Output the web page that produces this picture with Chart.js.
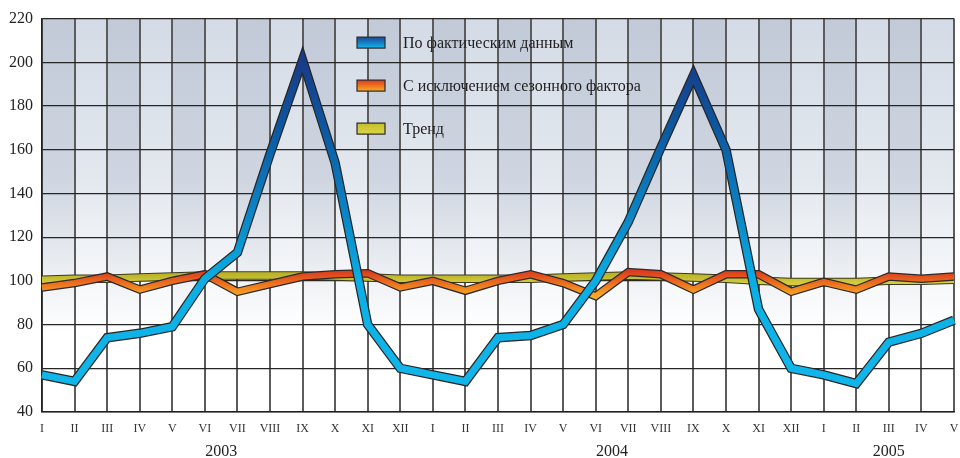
<!DOCTYPE html>
<html>
<head>
<meta charset="utf-8">
<script src="https://cdn.jsdelivr.net/npm/chart.js@4"></script>
<style>
  html, body { margin: 0; padding: 0; background: #fff; }
</style>
</head>
<body>
<canvas id="chart" width="960" height="458"></canvas>
<script>
  // categories
  var months = ['I', 'II', 'III', 'IV', 'V', 'VI', 'VII', 'VIII', 'IX', 'X', 'XI', 'XII',
                'I', 'II', 'III', 'IV', 'V', 'VI', 'VII', 'VIII', 'IX', 'X', 'XI', 'XII',
                'I', 'II', 'III', 'IV', 'V'];
  var years = ['2003', '2004', '2005'];
  var monthsPerYear = [12, 12, 5];

  // series
  var actual = [57, 54, 74, 76, 79, 101, 113, 158, 201, 154, 80, 60,
                57, 54, 74, 75, 80, 100, 127, 161, 194, 160, 87, 60,
                57, 53, 72, 76, 82];
  var seasonAdj = [97, 99, 102, 96, 100, 103, 95, 98.5, 102, 103, 103.5, 97,
                   100, 95.5, 100, 103, 99, 93, 104, 103, 96, 103, 103, 95,
                   99.5, 96, 102, 101, 102];
  var trend = [100.5, 101, 101, 101.5, 102, 102.5, 102.5, 102.5, 102.5, 102, 101.5, 101,
               101, 101, 101, 101, 101.5, 102, 102.5, 102, 101.5, 101, 100, 99.5,
               99.5, 99.5, 100, 100, 100.5];

  var seriesNames = ['По фактическим данным', 'С исключением сезонного фактора', 'Тренд'];

  var yMin = 40, yMax = 220, yStep = 20;

  // year label positions: middle of each year's months on the category scale
  var yearCenters = [];
  var start = 0;
  monthsPerYear.forEach(function (n) {
    yearCenters.push(start + (n - 1) / 2);
    start += n;
  });

  var serif = "'Liberation Serif', 'DejaVu Serif', serif";

  function vGradient(chart, stops) {
    if (!chart.chartArea) return stops[stops.length - 1][1];
    var y = chart.scales.y;
    var top = y.getPixelForValue(stops[0][0]);
    var bottom = y.getPixelForValue(stops[stops.length - 1][0]);
    var g = chart.ctx.createLinearGradient(0, top, 0, bottom);
    stops.forEach(function (s) {
      g.addColorStop((y.getPixelForValue(s[0]) - top) / (bottom - top), s[1]);
    });
    return g;
  }

  var blueStops = [[205, '#1a3884'], [170, '#0c58a0'], [130, '#0b86c6'], [100, '#0aaee4'], [60, '#10b6ea']];
  var orangeStops = [[105, '#d9361c'], [99, '#ec6e1f'], [93, '#f8ac22']];
  var trendStops = [[103, '#bbb328'], [99, '#d3cc3c']];

  function line(data, width, color, label, swatch) {
    return {
      label: label || '',
      data: data,
      borderColor: color,
      borderWidth: width,
      pointRadius: 0,
      tension: 0,
      fill: false,
      borderJoinStyle: 'miter',
      swatch: swatch
    };
  }

  // first dataset is drawn on top
  var datasets = [
    line(actual, 7, function (c) { return vGradient(c.chart, blueStops); }, seriesNames[0], ['#1c4896', '#12b6ee']),
    line(actual, 9.5, '#262626'),
    line(seasonAdj, 6, function (c) { return vGradient(c.chart, orangeStops); }, seriesNames[1], ['#e03a1c', '#f8ac22']),
    line(seasonAdj, 8.5, '#2a2a2a'),
    line(trend, 6.5, function (c) { return vGradient(c.chart, trendStops); }, seriesNames[2], ['#c4bd2a', '#dcd64a']),
    line(trend, 8.5, '#3a3a20')
  ];

  var bandsPlugin = {
    id: 'bands',
    beforeDraw: function (chart) {
      var ctx = chart.ctx, a = chart.chartArea, x = chart.scales.x;
      var fade = chart.scales.y.getPixelForValue(76);
      ctx.save();
      ctx.fillStyle = '#fff';
      ctx.fillRect(0, 0, chart.width, chart.height);
      for (var i = 0; i < months.length - 1; i++) {
        var x0 = x.getPixelForValue(i), x1 = x.getPixelForValue(i + 1);
        var g = ctx.createLinearGradient(0, a.top, 0, fade);
        if (i % 2 === 0) {
          g.addColorStop(0, '#c2cad8');
          g.addColorStop(0.5, '#ced5e0');
          g.addColorStop(1, '#ffffff');
        } else {
          g.addColorStop(0, '#d4dbe6');
          g.addColorStop(0.5, '#e3e8ef');
          g.addColorStop(1, '#ffffff');
        }
        ctx.fillStyle = g;
        ctx.fillRect(x0, a.top, x1 - x0, fade - a.top);
      }
      ctx.restore();
    }
  };

  var legendPlugin = {
    id: 'boxLegend',
    afterDatasetsDraw: function (chart) {
      var ctx = chart.ctx, a = chart.chartArea;
      var bx = a.left + 315, by = a.top + 24, row = 43;
      ctx.save();
      ctx.font = '16px ' + serif;
      ctx.textBaseline = 'middle';
      var k = 0;
      chart.data.datasets.forEach(function (ds) {
        if (!ds.swatch) return;
        var cy = by + k * row;
        var g = ctx.createLinearGradient(0, cy - 5.5, 0, cy + 5.5);
        g.addColorStop(0, ds.swatch[0]);
        g.addColorStop(1, ds.swatch[1]);
        ctx.fillStyle = g;
        ctx.fillRect(bx, cy - 5.5, 28, 11);
        ctx.strokeStyle = '#2a2a2a';
        ctx.lineWidth = 1.2;
        ctx.strokeRect(bx, cy - 5.5, 28, 11);
        ctx.fillStyle = '#222';
        ctx.fillText(ds.label, bx + 46, cy + 1);
        k++;
      });
      ctx.restore();
    }
  };

  new Chart(document.getElementById('chart'), {
    type: 'line',
    data: { labels: months, datasets: datasets },
    plugins: [bandsPlugin, legendPlugin],
    options: {
      responsive: false,
      animation: false,
      layout: { padding: { top: 16, right: 6, left: 0, bottom: 0 } },
      plugins: {
        legend: { display: false },
        tooltip: { enabled: false }
      },
      scales: {
        x: {
          type: 'category',
          offset: false,
          grid: { color: '#5c5c5c', lineWidth: 2, drawTicks: false },
          border: { color: '#222', width: 1.5 },
          ticks: {
            autoSkip: false, maxRotation: 0, padding: 10,
            color: '#333', font: { family: serif, size: 12 }
          },
          afterFit: function (s) { s.height = 26; s.paddingLeft = 0; s.paddingRight = 0; }
        },
        x2: {
          type: 'linear',
          position: 'bottom',
          min: 0,
          max: months.length - 1,
          grid: { display: false, drawTicks: false },
          border: { display: false },
          afterBuildTicks: function (s) {
            s.ticks = yearCenters.map(function (v) { return { value: v }; });
          },
          ticks: {
            autoSkip: false, maxRotation: 0, padding: 4,
            color: '#222', font: { family: serif, size: 16 },
            callback: function (v) { return years[yearCenters.indexOf(v)]; }
          },
          afterFit: function (s) { s.height = 20; s.paddingLeft = 0; s.paddingRight = 0; }
        },
        y: {
          min: yMin, max: yMax,
          grid: { color: '#262626', lineWidth: 1.3, drawTicks: false },
          border: { color: '#222', width: 1.5 },
          ticks: {
            stepSize: yStep, padding: 9,
            color: '#222', font: { family: serif, size: 16 }
          },
          afterFit: function (s) { s.width = 42; }
        }
      }
    }
  });
</script>
</body>
</html>
